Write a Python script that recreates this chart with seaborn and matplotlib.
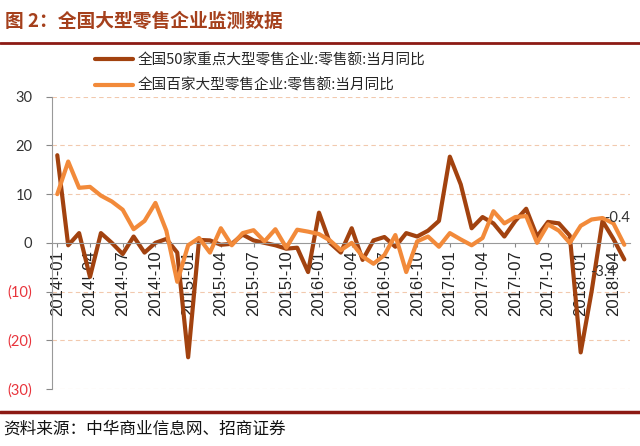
import numpy as np
import pandas as pd
import seaborn as sns
import matplotlib.pyplot as plt
from matplotlib.lines import Line2D

sns.set_style("white")
plt.rcParams['font.family'] = ['Liberation Sans', 'Noto Sans CJK SC']
plt.rcParams['axes.unicode_minus'] = False

# 月份 2014-01 ~ 2018-05
months = [d.strftime('%Y-%m') for d in pd.date_range('2014-01-01', '2018-05-01', freq='MS')]

name_50 = '全国50家重点大型零售企业:零售额:当月同比'
name_100 = '全国百家大型零售企业:零售额:当月同比'

top50 = [18.0, -0.5, 2.0, -7.0, 2.0, 0.0, -2.3, 1.3, -2.0, 0.0, 0.8, -2.0,
         -23.5, 0.6, 0.5, -0.4, -0.2, 1.7, 0.5, 0.0, -0.5, -1.2, -1.0, -6.0,
         6.2, 0.0, -2.0, 3.0, -3.5, 0.5, 1.2, -0.8, 2.0, 1.3, 2.5, 4.5,
         17.7, 12.0, 3.0, 5.3, 4.0, 1.3, 4.5, 7.0, 1.3, 4.3, 4.0, 1.5,
         -22.5, -10.0, 4.5, 0.8, -3.4]
top100 = [10.0, 16.7, 11.3, 11.5, 9.7, 8.5, 6.8, 2.8, 4.5, 8.2, 2.5, -8.0,
          -0.5, 1.0, -2.0, 3.0, -0.5, 2.0, 2.6, 0.3, 2.8, -1.0, 2.7, 2.3,
          1.8, 0.5, -1.5, 0.0, -2.8, -4.3, -2.5, 1.6, -6.0, 0.3, 1.3, -0.8,
          2.0, 0.7, -0.5, 1.0, 6.5, 4.0, 5.3, 5.5, 0.0, 3.8, 2.5, 0.0,
          3.5, 4.8, 5.1, 4.0, -0.4]

df = pd.DataFrame({
    'month': months * 2,
    'value': top50 + top100,
    'series': [name_50] * len(months) + [name_100] * len(months),
})

c_dark = '#a2420f'
c_light = '#f28a3a'
red = '#8c1a14'

fig = plt.figure(figsize=(6.4, 4.46), dpi=100)
ax = fig.add_axes([0.081, 0.128, 0.903, 0.655])

sns.lineplot(data=df, x='month', y='value', hue='series',
             palette={name_50: c_dark, name_100: c_light},
             linewidth=3.0, ax=ax, legend=False, sort=False)
for ln in ax.lines:
    ln.set_solid_joinstyle('round')
    ln.set_solid_capstyle('round')
# 浅色线在上层
ax.lines[1].set_zorder(3)
ax.lines[0].set_zorder(2.5)

ax.set_xlim(-0.5, len(months) - 0.5)
ax.set_ylim(-30, 30)
ax.set_xlabel('')
ax.set_ylabel('')

# y轴
yt = [30, 20, 10, 0, -10, -20, -30]
ax.set_yticks(yt)
ax.set_yticklabels([str(v) if v >= 0 else f'({-v})' for v in yt], fontsize=10.5,
                   family=['Lato', 'Noto Sans CJK SC'])
for lab, v in zip(ax.get_yticklabels(), yt):
    lab.set_color('#e8343c' if v < 0 else '#333333')
ax.tick_params(axis='y', length=4, width=0.8, color='#888888', pad=10, left=True)
for v in yt:
    if v != 0:
        ax.axhline(v, color='#f2c9ae', lw=0.8, ls=(0, (4, 3)), zorder=0)

# x轴在0处
xt = list(range(0, len(months), 3))
ax.set_xticks(xt)
ax.set_xticklabels([months[i].replace('-', '!-') for i in xt])
ax.tick_params(axis='x', length=3, width=0.8, color='#888888', pad=2, bottom=True,
               labelrotation=90, labelsize=12, labelcolor='#222222')
ax.spines['bottom'].set_position(('data', 0))
ax.spines['bottom'].set_color('#999999')
ax.spines['left'].set_color('#999999')
ax.spines['right'].set_visible(False)
ax.spines['top'].set_visible(False)

# 数据标签
ax.annotate(f'{top100[-1]:.1f}', xy=(len(months) - 1, top100[-1]), xytext=(-5, 19),
            textcoords='offset points', ha='center', va='center', fontsize=10.5,
            color='#333333', family=['Lato'])
ax.annotate(f'{top50[-1]:.1f}', xy=(len(months) - 1, top50[-1]), xytext=(-15, -9),
            textcoords='offset points', ha='center', va='center', fontsize=10.5,
            color='#333333', family=['Lato'])

# 图例
handles = [Line2D([], [], color=c_dark, lw=3), Line2D([], [], color=c_light, lw=3)]
fig.legend(handles, [name_50, name_100], loc='upper left',
           bbox_to_anchor=(0.128, 0.91), frameon=False,
           handlelength=2.6, handletextpad=0.35, labelspacing=0.75,
           prop={'family': ['Noto Sans CJK SC'], 'size': 10.5})

# 标题与来源
fig.text(0.008, 0.952, '图 2：全国大型零售企业监测数据', fontsize=13.5, fontweight='bold',
         color='#a5401c', va='center', family=['Noto Sans CJK SC'])
fig.add_artist(Line2D([0, 1], [0.904, 0.904], color=red, lw=2))
fig.add_artist(Line2D([0, 1], [0.076, 0.076], color=red, lw=2.5))
fig.text(0.005, 0.038, '资料来源：中华商业信息网、招商证券', fontsize=12,
         color='#111111', va='center', family=['Noto Sans CJK SC'])

fig.savefig('out.png', dpi=100)
